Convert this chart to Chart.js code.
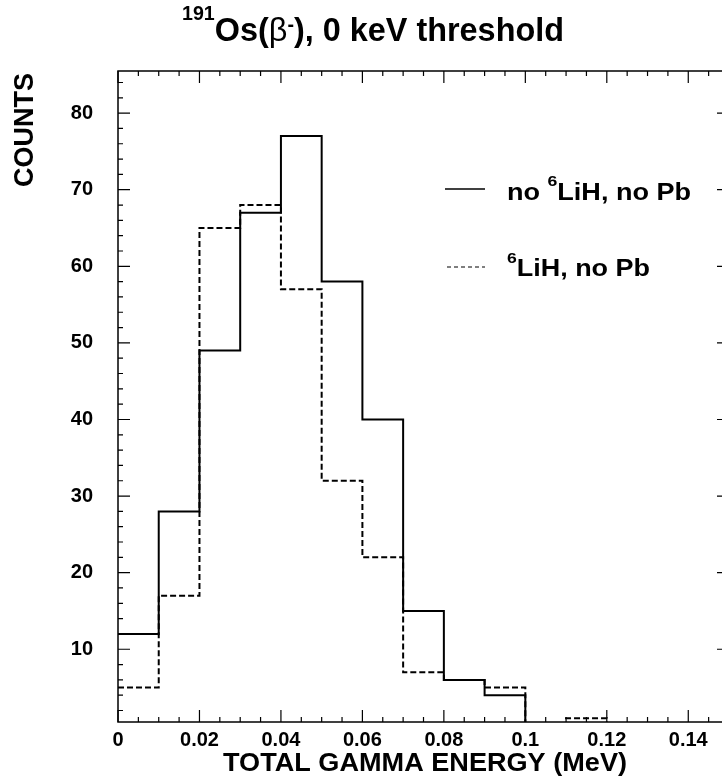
<!DOCTYPE html>
<html lang="en">
<head>
<meta charset="UTF-8">
<title>191Os(β-), 0 keV threshold</title>
<style>
    html, body {
        margin: 0;
        padding: 0;
        background: #ffffff;
        overflow: hidden;
    }
    #histo {
        display: block;
    }
</style>
<script src="https://cdn.jsdelivr.net/npm/chart.js"></script>
</head>
<body>
<canvas id="histo" width="760" height="782"></canvas>
<script>
// Bin lower edges (MeV), 0.01 MeV wide
const binEdges = [0, 0.01, 0.02, 0.03, 0.04, 0.05, 0.06, 0.07, 0.08, 0.09, 0.10, 0.11, 0.12, 0.13, 0.14];
const xMax = 0.15;

// Counts per bin
const countsNoLiH = [12, 28, 49, 67, 77, 58, 40, 15, 6, 4, 0, 0, 0, 0, 0];
const countsLiH   = [5, 17, 65, 68, 57, 32, 22, 7, 6, 5, 0, 1, 0, 0, 0];

// Axis ranges and labelled ticks
const yMin = 0.5, yMax = 85.5;
const xTicks = [0, 0.02, 0.04, 0.06, 0.08, 0.1, 0.12, 0.14];
const yTicks = [10, 20, 30, 40, 50, 60, 70, 80];

const FONT = '"Liberation Sans", Arial, Helvetica, sans-serif';

// one point per bin edge; the last edge closes the final bin
function histPoints(counts) {
    const pts = binEdges.map((x, i) => ({ x: x, y: counts[i] }));
    pts.push({ x: xMax, y: counts[counts.length - 1] });
    return pts;
}

// draw a run of text pieces (with superscripts), squeezed/stretched to a width
function drawRich(ctx, parts, x, baseline, width) {
    ctx.save();
    const widths = parts.map(p => {
        ctx.font = (p.weight || 'bold') + ' ' + p.size + 'px ' + FONT;
        return ctx.measureText(p.t).width;
    });
    const total = widths.reduce((a, b) => a + b, 0);
    const sx = width ? width / total : 1;
    ctx.translate(x, baseline);
    ctx.scale(sx, 1);
    ctx.fillStyle = '#000';
    ctx.textBaseline = 'alphabetic';
    ctx.textAlign = 'left';
    let cx = 0;
    parts.forEach((p, i) => {
        ctx.font = (p.weight || 'bold') + ' ' + p.size + 'px ' + FONT;
        ctx.fillText(p.t, cx, p.dy || 0);
        cx += widths[i];
    });
    ctx.restore();
}

const framePlugin = {
    id: 'frame',
    afterDatasetsDraw(chart) {
        const ctx = chart.ctx;
        const a = chart.chartArea;
        const xs = chart.scales.x, ys = chart.scales.y;
        ctx.save();
        ctx.strokeStyle = '#000';
        ctx.lineWidth = 1.5;
        ctx.setLineDash([]);
        ctx.strokeRect(a.left, a.top, a.right - a.left, a.bottom - a.top);

        ctx.lineWidth = 1.2;
        ctx.beginPath();
        // x ticks every 0.005, long at labelled values
        for (let i = 0; i <= 30; i++) {
            const v = i * 0.005;
            const px = xs.getPixelForValue(v);
            const major = (i % 4 === 0);
            const len = major ? 12 : 5;
            ctx.moveTo(px, a.bottom); ctx.lineTo(px, a.bottom - len);
            ctx.moveTo(px, a.top); ctx.lineTo(px, a.top + len);
        }
        // y ticks every 2, long every 10
        for (let v = 2; v <= 84; v += 2) {
            const py = ys.getPixelForValue(v);
            const len = (v % 10 === 0) ? 12 : 5;
            ctx.moveTo(a.left, py); ctx.lineTo(a.left + len, py);
            ctx.moveTo(a.right, py); ctx.lineTo(a.right - len, py);
        }
        ctx.stroke();
        ctx.restore();
    },
    afterDraw(chart) {
        const ctx = chart.ctx;
        // title
        drawRich(ctx, [
            { t: '191', size: 20, dy: -21 },
            { t: 'Os(', size: 33 },
            { t: 'β', size: 33, weight: 'normal' },
            { t: '-', size: 20, dy: -10 },
            { t: '), 0 keV threshold', size: 33 }
        ], 182, 41, 382);

        // axis titles
        drawRich(ctx, [{ t: 'TOTAL GAMMA ENERGY (MeV)', size: 26 }], 223, 771, 404);

        ctx.save();
        ctx.translate(33, 73);
        ctx.rotate(-Math.PI / 2);
        ctx.font = 'bold 27px ' + FONT;
        ctx.fillStyle = '#000';
        ctx.textAlign = 'right';
        ctx.textBaseline = 'alphabetic';
        ctx.fillText('COUNTS', 0, 0);
        ctx.restore();

        // legend
        ctx.save();
        ctx.strokeStyle = '#000';
        ctx.lineWidth = 1.5;
        ctx.beginPath();
        ctx.moveTo(445, 189); ctx.lineTo(485, 189);
        ctx.stroke();
        ctx.setLineDash([4, 3]);
        ctx.lineWidth = 1.2;
        ctx.beginPath();
        ctx.moveTo(447, 267); ctx.lineTo(485, 267);
        ctx.stroke();
        ctx.restore();

        drawRich(ctx, [
            { t: 'no ', size: 23 },
            { t: '6', size: 15, dy: -14 },
            { t: 'LiH, no Pb', size: 23 }
        ], 507, 200, 184);
        drawRich(ctx, [
            { t: '6', size: 15, dy: -13 },
            { t: 'LiH, no Pb', size: 23 }
        ], 507, 276, 143);
    }
};

new Chart(document.getElementById('histo'), {
    type: 'line',
    data: {
        datasets: [
            {
                label: 'no 6LiH, no Pb',
                data: histPoints(countsNoLiH),
                stepped: 'before',
                borderColor: '#000',
                borderWidth: 2,
                pointRadius: 0,
                fill: false,
                clip: 0
            },
            {
                label: '6LiH, no Pb',
                data: histPoints(countsLiH),
                stepped: 'before',
                borderColor: '#000',
                borderWidth: 2,
                borderDash: [6, 3],
                pointRadius: 0,
                fill: false,
                clip: 0
            }
        ]
    },
    options: {
        responsive: false,
        animation: false,
        devicePixelRatio: 1,
        layout: { padding: { left: 0, top: 71, right: 31, bottom: 0 } },
        plugins: {
            legend: { display: false },
            tooltip: { enabled: false }
        },
        scales: {
            x: {
                type: 'linear',
                min: 0,
                max: xMax,
                grid: { display: false, drawTicks: false },
                border: { display: false },
                afterBuildTicks: scale => { scale.ticks = xTicks.map(v => ({ value: v })); },
                afterFit: scale => { scale.height = 60; },
                ticks: {
                    padding: 6,
                    maxRotation: 0,
                    autoSkip: false,
                    color: '#000',
                    font: { family: FONT, size: 20, weight: 'bold' },
                    callback: v => String(v)
                }
            },
            y: {
                type: 'linear',
                min: yMin,
                max: yMax,
                grid: { display: false, drawTicks: false },
                border: { display: false },
                afterBuildTicks: scale => { scale.ticks = yTicks.map(v => ({ value: v })); },
                afterFit: scale => { scale.width = 118; },
                ticks: {
                    padding: 25,
                    autoSkip: false,
                    color: '#000',
                    font: { family: FONT, size: 20, weight: 'bold' },
                    callback: v => String(v)
                }
            }
        }
    },
    plugins: [framePlugin]
});
</script>
</body>
</html>
